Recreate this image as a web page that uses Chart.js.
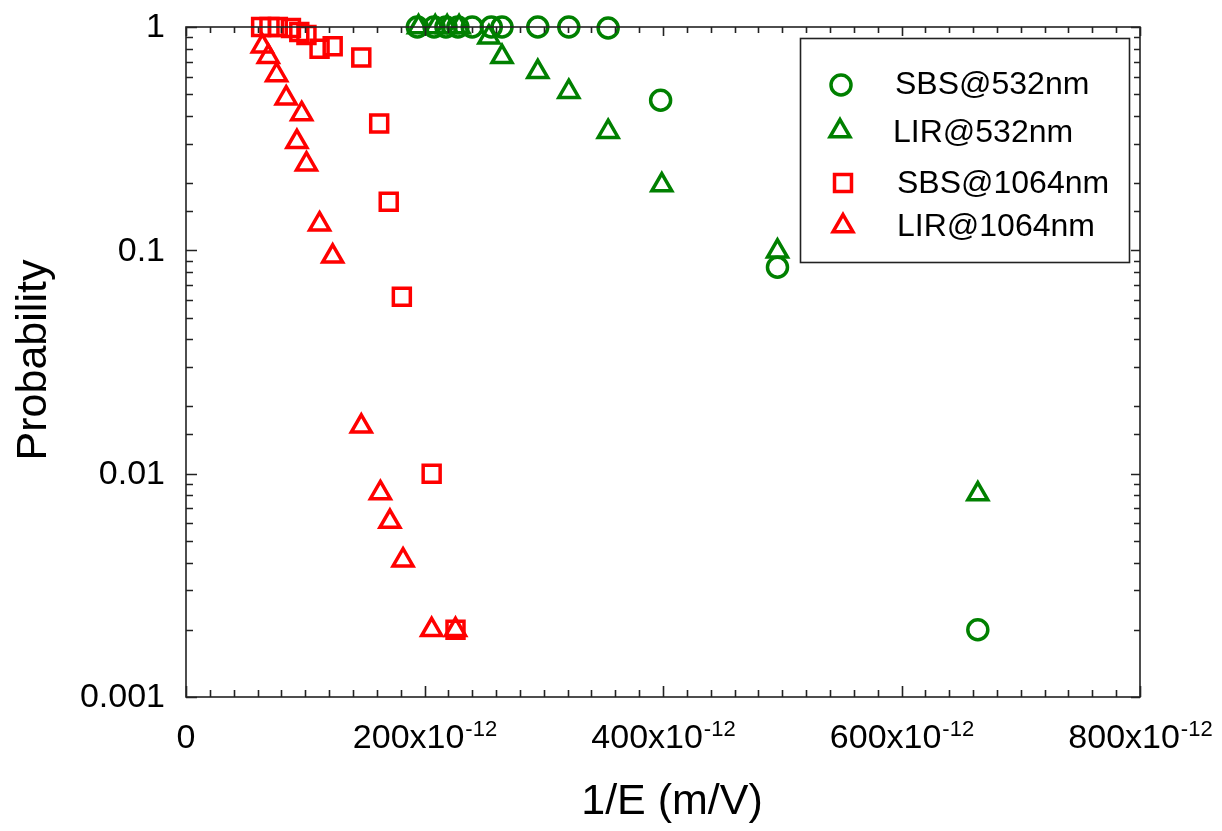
<!DOCTYPE html>
<html>
<head>
<meta charset="utf-8">
<script src="https://cdn.jsdelivr.net/npm/chart.js@4/dist/chart.umd.min.js"></script>
<style>
  html, body { margin: 0; padding: 0; background: #fff; }
  #wrap { width: 1222px; height: 831px; }
</style>
</head>
<body>
<div id="wrap"><canvas id="chart" width="1222" height="831"></canvas></div>
<script>
// x values are in units of 1e-12 m/V, y is probability
const sbs532X = [194, 208, 218, 228, 240, 256, 265, 295, 321, 354, 398, 496, 664];
const sbs532Y = [1, 1, 1, 1, 1, 1, 1, 1, 1, 0.99, 0.47, 0.084, 0.002];

const lir532X = [195, 209, 219, 229, 254, 265, 295, 321, 354, 399, 496, 664];
const lir532Y = [1, 1, 1, 1, 0.90, 0.735, 0.63, 0.513, 0.34, 0.196, 0.099, 0.0081];

const sbs1064X = [63, 70, 77, 88, 95, 101, 112, 123, 147, 162, 170, 181, 206, 226];
const sbs1064Y = [1, 1, 1, 0.99, 0.95, 0.92, 0.80, 0.82, 0.73, 0.37, 0.165, 0.062, 0.01, 0.002];

const lir1064X = [64, 69, 76, 84, 97, 93, 101, 112, 123, 147, 163, 171, 182, 206, 226];
const lir1064Y = [0.82, 0.736, 0.61, 0.48, 0.408, 0.306, 0.243, 0.131, 0.094, 0.0163, 0.0082, 0.0061, 0.0041, 0.002, 0.002];

const seriesNames = ['SBS@532nm', 'LIR@532nm', 'SBS@1064nm', 'LIR@1064nm'];
const yTickLabels = ['1', '0.1', '0.01', '0.001'];
const xMajorStep = 200;
const xMinorStep = 20;

const GREEN = 'rgb(0,128,0)';
const RED = 'rgb(255,0,0)';
const FONT = '"Liberation Sans", Arial, sans-serif';

function pts(xs, ys) {
  return xs.map((x, i) => ({ x: x, y: ys[i] }));
}

function series(label, xs, ys, color, style, radius) {
  return {
    label: label,
    data: pts(xs, ys),
    pointStyle: style,
    pointRadius: radius,
    pointHoverRadius: radius,
    pointBorderWidth: 3.5,
    borderColor: color,
    backgroundColor: 'rgba(0,0,0,0)',
    showLine: false,
    clip: false
  };
}

const datasets = [
  series(seriesNames[0], sbs532X, sbs532Y, GREEN, 'circle', 10),
  series(seriesNames[1], lir532X, lir532Y, GREEN, 'triangle', 11.5),
  series(seriesNames[2], sbs1064X, sbs1064Y, RED, 'rect', 12),
  series(seriesNames[3], lir1064X, lir1064Y, RED, 'triangle', 11.5)
];

// legend rows: marker position, text position
const legendRows = [
  { mx: 841, my: 85, tx: 895, ty: 85 },
  { mx: 840, my: 131, tx: 893, ty: 133 },
  { mx: 843, my: 183, tx: 897, ty: 184 },
  { mx: 843, my: 226, tx: 897, ty: 227 }
];

function isDecade(v) {
  const l = Math.log10(v);
  return Math.abs(l - Math.round(l)) < 1e-6;
}

function markerPath(ctx, style, r, x, y) {
  ctx.beginPath();
  if (style === 'circle') {
    ctx.arc(x, y, r, 0, Math.PI * 2);
  } else if (style === 'rect') {
    const s = Math.SQRT1_2 * r;
    ctx.rect(x - s, y - s, 2 * s, 2 * s);
  } else {
    for (let k = 0; k < 3; k++) {
      const a = k * 2 * Math.PI / 3;
      const px = x + Math.sin(a) * r, py = y - Math.cos(a) * r;
      if (k === 0) ctx.moveTo(px, py); else ctx.lineTo(px, py);
    }
    ctx.closePath();
  }
}

const framePlugin = {
  id: 'frame',
  afterDraw(chart) {
    const ctx = chart.ctx;
    const a = chart.chartArea;
    const xs = chart.scales.x, ys = chart.scales.y;
    ctx.save();
    ctx.strokeStyle = '#222';
    ctx.lineWidth = 1.6;
    ctx.strokeRect(a.left, a.top, a.right - a.left, a.bottom - a.top);

    // inward ticks on all four sides
    ctx.beginPath();
    xs.ticks.forEach(t => {
      const px = Math.round(xs.getPixelForValue(t.value)) + 0.5;
      const major = Math.round(t.value) % xMajorStep === 0;
      const len = major ? 11 : 7;
      ctx.moveTo(px, a.bottom); ctx.lineTo(px, a.bottom - len);
      ctx.moveTo(px, a.top); ctx.lineTo(px, a.top + (major ? 9 : 6));
    });
    ys.ticks.forEach(t => {
      const py = Math.round(ys.getPixelForValue(t.value)) + 0.5;
      const major = isDecade(t.value);
      const len = major ? 11 : 7;
      ctx.moveTo(a.left, py); ctx.lineTo(a.left + len, py);
      ctx.moveTo(a.right, py); ctx.lineTo(a.right - (major ? 9 : 6), py);
    });
    ctx.stroke();

    ctx.fillStyle = '#000';

    // y tick labels at the decades
    ctx.font = '34px ' + FONT;
    ctx.textAlign = 'right';
    ctx.textBaseline = 'middle';
    ys.ticks.filter(t => isDecade(t.value)).forEach(t => {
      const k = -Math.round(Math.log10(t.value));
      ctx.fillText(yTickLabels[k], a.left - 21, ys.getPixelForValue(t.value) + 1);
    });

    // x tick labels with a raised exponent
    ctx.textBaseline = 'alphabetic';
    ctx.textAlign = 'left';
    const base = a.bottom + 51;
    xs.ticks.filter(t => Math.round(t.value) % xMajorStep === 0).forEach(t => {
      const px = xs.getPixelForValue(t.value);
      const v = Math.round(t.value);
      if (v === 0) {
        ctx.font = '34px ' + FONT;
        ctx.textAlign = 'center';
        ctx.fillText('0', px, base);
        ctx.textAlign = 'left';
        return;
      }
      const main = v + 'x10';
      const sup = '-12';
      ctx.font = '34px ' + FONT;
      const w1 = ctx.measureText(main).width;
      ctx.font = '22px ' + FONT;
      const w2 = ctx.measureText(sup).width;
      const x0 = px - (w1 + w2) / 2;
      ctx.font = '34px ' + FONT;
      ctx.fillText(main, x0, base);
      ctx.font = '22px ' + FONT;
      ctx.fillText(sup, x0 + w1 + 1, base - 12);
    });

    // axis titles
    ctx.font = '43px ' + FONT;
    ctx.textAlign = 'center';
    ctx.fillText('1/E (m/V)', 672, 814);
    ctx.save();
    ctx.translate(46, 360);
    ctx.rotate(-Math.PI / 2);
    ctx.fillText('Probability', 0, 0);
    ctx.restore();

    // legend box
    ctx.lineWidth = 1.6;
    ctx.strokeStyle = '#222';
    ctx.strokeRect(800.5, 38.5, 329, 224);
    ctx.font = '32px ' + FONT;
    ctx.textAlign = 'left';
    ctx.textBaseline = 'middle';
    chart.data.datasets.forEach((ds, i) => {
      const row = legendRows[i];
      ctx.strokeStyle = ds.borderColor;
      ctx.lineWidth = ds.pointBorderWidth;
      markerPath(ctx, ds.pointStyle, ds.pointRadius, row.mx, row.my);
      ctx.stroke();
      ctx.fillStyle = '#000';
      ctx.fillText(ds.label, row.tx, row.ty);
    });
    ctx.restore();
  }
};

new Chart(document.getElementById('chart'), {
  type: 'scatter',
  data: { datasets: datasets },
  options: {
    responsive: false,
    animation: false,
    events: [],
    layout: { padding: { left: 186, right: 82, top: 27, bottom: 134 } },
    plugins: {
      legend: { display: false },
      tooltip: { enabled: false }
    },
    scales: {
      x: {
        type: 'linear',
        min: 0,
        max: 800,
        ticks: { display: false, stepSize: xMinorStep },
        grid: { display: false, drawTicks: false },
        border: { display: false }
      },
      y: {
        type: 'logarithmic',
        min: 0.001,
        max: 1,
        ticks: { display: false },
        grid: { display: false, drawTicks: false },
        border: { display: false }
      }
    }
  },
  plugins: [framePlugin]
});
</script>
</body>
</html>
